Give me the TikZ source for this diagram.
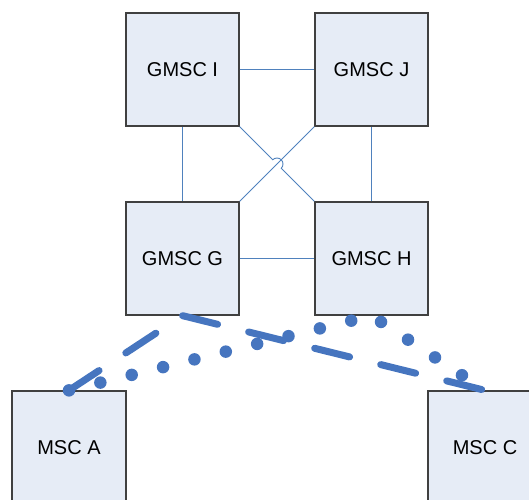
\documentclass[tikz,border=0pt]{standalone}
\usepackage{fontspec}
\setmainfont{Liberation Sans}
\usetikzlibrary{calc}
\definecolor{boxfill}{RGB}{230,236,246}
\definecolor{boxedge}{RGB}{64,64,64}
\definecolor{thinlink}{RGB}{79,129,189}
\definecolor{thicklink}{RGB}{70,117,191}
\tikzset{
  msc/.style={draw=boxedge, line width=1.3pt, fill=boxfill,
    minimum width=113pt, minimum height=113pt, inner sep=0pt,
    font=\fontsize{20}{23}\selectfont},
  link/.style={draw=thinlink, line width=0.9pt},
  dashroute/.style={draw=thicklink, line width=7pt, line cap=round,
    dash pattern=on 36pt off 32pt},
  dotroute/.style={draw=thicklink, line width=12.5pt, line cap=round,
    dash pattern=on 0pt off 32.3pt}
}
\begin{document}
\begin{tikzpicture}[x=1pt,y=1pt]
\useasboundingbox (0,0) rectangle (529,499);

% gateway switching centres
\node[msc] (I) at (182.5,429.5) {GMSC I};
\node[msc] (J) at (371.5,429.5) {GMSC J};
\node[msc] (G) at (182.5,240.5) {GMSC G};
\node[msc] (H) at (371.5,240.5) {GMSC H};

% local switching centres
\node[msc, minimum width=114pt] (A) at (69,51.5) {MSC A};
\node[msc, minimum width=114pt] (C) at (485,51.5) {MSC C};

% trunk mesh between the gateways
\draw[link] (I) -- (J);
\draw[link] (G) -- (H);
\draw[link] (I) -- (G);
\draw[link] (J) -- (H);
\draw[link] (J.south west) -- (G.north east);
% diagonal I-H hops over the J-G diagonal
\coordinate (X) at (277,335);
\draw[link] (I.south east) -- ($(X)+(135:6)$)
  arc[start angle=135, end angle=-45, radius=6]
  -- (H.north west);

% routes from MSC A to MSC C
\draw[dashroute] (A.north) -- (G.south) -- (C.north);
\draw[dotroute] (A.north) -- (H.south) -- (C.north);
\end{tikzpicture}
\end{document}
